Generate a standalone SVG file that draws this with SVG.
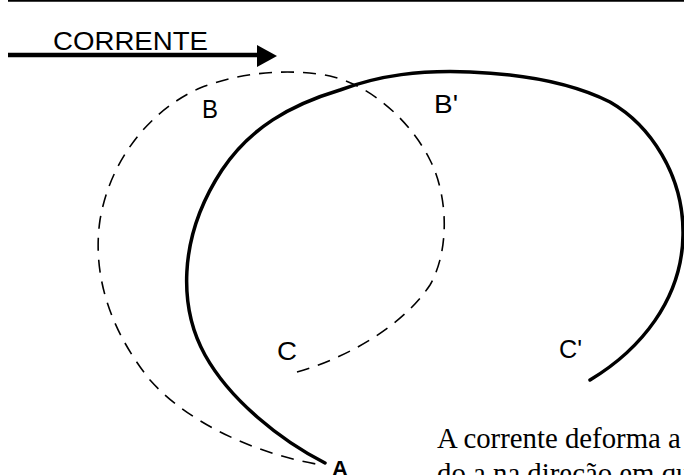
<svg xmlns="http://www.w3.org/2000/svg" width="684" height="475" viewBox="0 0 684 475">
<style>
.lbl{font-family:"Liberation Sans",Arial,sans-serif;font-size:26px;fill:#000}
.body{font-family:"Liberation Serif","Times New Roman",serif;font-size:28.8px;fill:#000}
.dash{fill:none;stroke:#000;stroke-width:1.6;stroke-dasharray:13 9}
.solid{fill:none;stroke:#000;stroke-width:3.5;stroke-linecap:round}
</style>
<rect width="684" height="475" fill="#fff"/>
<line x1="8" y1="0.8" x2="684" y2="0.8" stroke="#000" stroke-width="1.8"/>
<g id="current">
<line x1="8" y1="55" x2="262" y2="55" stroke="#000" stroke-width="4.5"/>
<polygon points="257,45 277,56 257,67" fill="#000"/>
<text class="lbl" x="53" y="50" font-size="24" textLength="155" lengthAdjust="spacingAndGlyphs">CORRENTE</text>
</g>
<g id="connectors">
<path id="original" class="dash" d="M297,372 C340,360 400,330 430,285 C450,250 448,195 430,160 C410,120 370,85 330,76 C290,68 240,72 200,88 C150,110 110,160 100,220 C92,275 110,330 150,380 C190,425 260,455 322,465"/>
<path id="deformed" class="solid" d="M325,463 C280,440 230,400 205,355 C180,310 176,240 222,170 C250,128 290,105 340,90 C380,75 420,70 470,72 C520,74 570,82 610,102 C650,125 684,175 683,235 C682,300 640,350 590,380"/>
</g>
<g id="B"><text class="lbl" x="202" y="118" textLength="16" lengthAdjust="spacingAndGlyphs">B</text></g>
<g id="Bp"><text class="lbl" x="434" y="113" textLength="24" lengthAdjust="spacingAndGlyphs">B'</text></g>
<g id="C"><text class="lbl" x="277" y="360" textLength="20" lengthAdjust="spacingAndGlyphs">C</text></g>
<g id="Cp"><text class="lbl" x="559" y="358" textLength="23" lengthAdjust="spacingAndGlyphs">C'</text></g>
<g id="A"><text class="lbl" x="332" y="476" style="font-weight:bold;font-size:22px">A</text></g>
<g id="caption">
<text class="body" x="437" y="448">A corrente deforma a</text>
<text class="body" x="437" y="483">do a na direção em que</text>
</g>
</svg>
